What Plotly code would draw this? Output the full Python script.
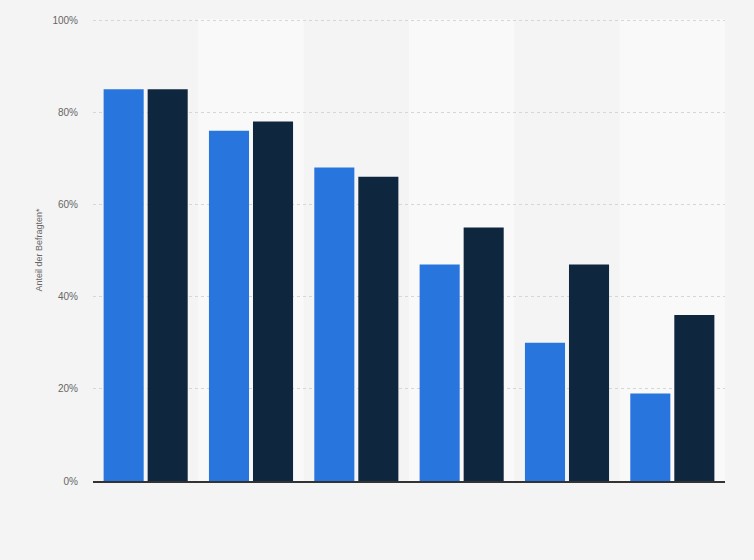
import plotly.graph_objects as go

categories = ["K1", "K2", "K3", "K4", "K5", "K6"]
series_a = [85, 76, 68, 47, 30, 19]
series_b = [85, 78, 66, 55, 47, 36]
tick_vals = [0, 20, 40, 60, 80, 100]
tick_text = ["0%", "20%", "40%", "60%", "80%", "100%"]

fig = go.Figure()
fig.add_trace(go.Bar(x=categories, y=series_a, marker=dict(color="#2876dd", line=dict(width=0)), showlegend=False))
fig.add_trace(go.Bar(x=categories, y=series_b, marker=dict(color="#0f273e", line=dict(width=0)), showlegend=False))

shapes = []
for i in range(len(categories)):
    if i % 2 == 1:
        shapes.append(dict(type="rect", xref="x", yref="paper", x0=i - 0.5, x1=i + 0.5, y0=0, y1=1,
                           fillcolor="#f9f9f9", line=dict(width=0), layer="below"))

fig.update_layout(
    width=754, height=560,
    margin=dict(l=93, r=29, t=19, b=79),
    paper_bgcolor="#f4f4f4", plot_bgcolor="#f4f4f4",
    barmode="group", bargap=0.164, bargroupgap=0.09,
    shapes=shapes,
    font=dict(family="Liberation Sans, Arial, sans-serif", color="#666666"),
    xaxis=dict(showticklabels=False, showgrid=False, showline=True, linecolor="#333333", linewidth=1.5,
               ticks="", range=[-0.5, 5.5], zeroline=False),
    yaxis=dict(range=[0, 100.25], tickvals=tick_vals, ticktext=tick_text, showgrid=True, gridcolor="#d6d6d6",
               griddash="dot", gridwidth=1, zeroline=False, showline=False, ticks="", ticklabelstandoff=14,
               tickfont=dict(size=10, color="#666666"),
               title=dict(text="Anteil der Befragten*", font=dict(size=9, color="#666666"), standoff=8)),
)

fig.write_html("out.html", config={"displayModeBar": False},
               post_script="document.body.style.margin='0';document.body.style.background='#f4f4f4';")
